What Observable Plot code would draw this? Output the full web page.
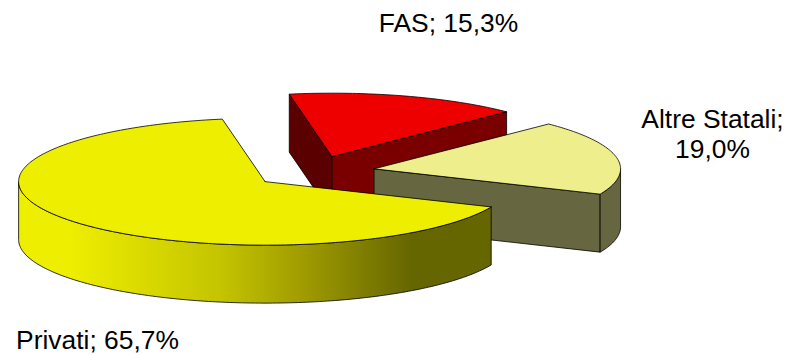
<!DOCTYPE html>
<html><head><meta charset="utf-8">
<style>html,body{margin:0;padding:0;background:#fff}svg{display:block}</style>
<script src="https://cdn.jsdelivr.net/npm/d3@7"></script>
<script src="https://cdn.jsdelivr.net/npm/@observablehq/plot@0.6"></script>
</head><body>
<script>
// data (clockwise order, starting from the FAS slice)
const categories = ["FAS", "Altre Statali", "Privati"];
const shares = [15.3, 19.0, 65.7];
const valueLabels = ["15,3%", "19,0%", "65,7%"];

// chart layout
const W = 785, H = 355;
const centre = [313, 171.3], rx = 246.5, ry = 63.5, depth = 58, explode = 0.25, startDeg = -100;
const topColors = ["#ee0000", "#eeee8c", "#eeee00"];
const sideColors = ["#7a0000", "#666640", "url(#privatiSide)"];
const cutColors = ["#5a0000", "#666640", "#666600"];

const rows = [];
let id = 0;
function poly(pts, fill) {
  id++;
  pts.forEach(p => rows.push({x: p[0], y: p[1], id, fill}));
}
const rad = d => d * Math.PI / 180;
let acc = startDeg;
const slices = categories.map((c, i) => {
  const a0 = acc, a1 = acc + shares[i] * 3.6; acc = a1;
  const mid = rad((a0 + a1) / 2);
  const cx = centre[0] + explode * rx * Math.cos(mid);
  const cy = centre[1] + explode * ry * Math.sin(mid);
  const pt = (deg, dy = 0) => [cx + rx * Math.cos(rad(deg)), cy + ry * Math.sin(rad(deg)) + dy];
  return {i, a0, a1, cx, cy, pt};
});
function arc(s, a, b, dy = 0) {
  const n = Math.max(2, Math.ceil(Math.abs(b - a)));
  return d3.range(n + 1).map(k => s.pt(a + (b - a) * k / n, dy));
}
slices.forEach(s => {
  const c = [s.cx, s.cy], cd = [s.cx, s.cy + depth];
  if (s.i === 0) {
    const p = s.pt(s.a0), q = s.pt(s.a1);
    poly([c, p, [p[0], p[1] + depth], cd, c], cutColors[0]);
    poly([c, q, [q[0], q[1] + depth], cd, c], sideColors[0]);
  }
  if (s.i === 1) {
    const q = s.pt(s.a1);
    poly([c, q, [q[0], q[1] + depth], cd, c], sideColors[1]);
    const top = arc(s, 0, s.a1);
    const bot = arc(s, s.a1, 0, depth);
    poly([...top, ...bot, top[0]], sideColors[1]);
  }
  if (s.i === 2) {
    const top = arc(s, s.a0, 180);
    const bot = arc(s, 180, s.a0, depth);
    poly([...top, ...bot, top[0]], sideColors[2]);
  }
  poly([c, ...arc(s, s.a0, s.a1), c], topColors[s.i]);
});

const ids = d3.group(rows, d => d.id);
const labelFont = {fontSize: 26.4, fontFamily: "Liberation Sans", fill: "#000"};
const plot = Plot.plot({
  width: W, height: H, margin: 0,
  x: {domain: [0, W], range: [0, W], axis: null},
  y: {domain: [0, H], range: [0, H], axis: null},
  style: {background: "#fff"},
  marks: [
    ...[...ids.values()].map(g => Plot.line(g, {
      x: "x", y: "y", fill: g[0].fill, stroke: "#000", strokeWidth: 0.8, strokeLinejoin: "round", curve: "linear"
    })),
    Plot.text([`${categories[0]}; ${valueLabels[0]}`], {x: () => 448, y: () => 23, text: d => d, ...labelFont}),
    Plot.text([`${categories[1]};\n${valueLabels[1]}`], {x: () => 712, y: () => 132.5, text: d => d, lineHeight: 1.14, ...labelFont}),
    Plot.text([`${categories[2]}; ${valueLabels[2]}`], {x: () => 97, y: () => 340.5, text: d => d, ...labelFont})
  ]
});
const svg = d3.select(plot);
const grad = svg.insert("defs", ":first-child").append("linearGradient")
  .attr("id", "privatiSide").attr("gradientUnits", "userSpaceOnUse")
  .attr("x1", 18).attr("x2", 491).attr("y1", 0).attr("y2", 0);
[[0, "#eeee00"], [0.11, "#eeee00"], [0.427, "#c4c400"], [0.60, "#a09c00"], [0.83, "#666600"], [1, "#666600"]].forEach(([o, c]) =>
  grad.append("stop").attr("offset", o).attr("stop-color", c));
document.body.appendChild(plot);
</script>
</body></html>
